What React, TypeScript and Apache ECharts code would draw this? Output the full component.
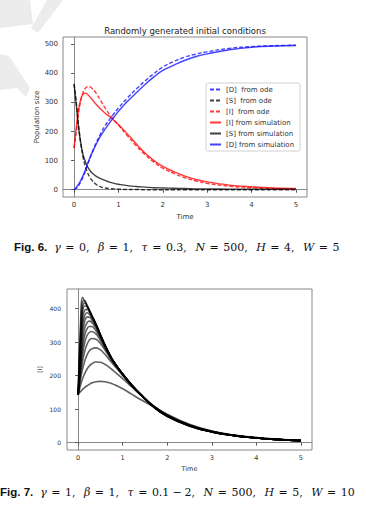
import React, { useEffect, useRef } from "react";
import * as echarts from "echarts";

const FONT = "DejaVu Sans";

// ---------- Figure 6 data ----------
const T1 = [0, 0.05, 0.1, 0.15, 0.2, 0.25, 0.3, 0.35, 0.4, 0.5, 0.6, 0.7, 0.8, 0.9, 1.0, 1.2, 1.4, 1.6, 1.8, 2.0, 2.25, 2.5, 2.75, 3.0, 3.5, 4.0, 4.5, 5.0];
const D_ODE = [0, 5, 14, 27, 43, 62, 84, 105, 126, 162, 193, 220, 242, 262, 281, 315, 346, 374, 399, 422, 441, 456, 466, 474, 486, 492, 495, 497];
const S_ODE = [363, 300, 222, 160, 113, 82, 60, 44, 33, 18, 10, 6, 4, 3, 2, 1, 1, 0, 0, 0, 0, 0, 0, 0, 0, 0, 0, 0];
const I_ODE = [143, 200, 262, 307, 334, 348, 354, 354, 349, 331, 306, 281, 259, 240, 222, 186, 151, 121, 95, 74, 56, 41, 30, 22, 12, 7, 4, 2];
const I_SIM = [143, 215, 275, 310, 328, 332, 328, 320, 311, 293, 277, 263, 252, 238, 224, 192, 158, 126, 100, 80, 62, 47, 35, 27, 16, 10, 6, 4];
const S_SIM = [363, 290, 215, 160, 122, 98, 80, 68, 58, 46, 38, 32, 26, 22, 19, 14, 11, 9, 7, 6, 5, 4, 3, 3, 2, 2, 2, 2];
const D_SIM = [0, 8, 18, 32, 48, 66, 88, 107, 125, 157, 185, 208, 230, 250, 270, 303, 333, 362, 388, 410, 428, 445, 458, 467, 481, 490, 494, 496];

const X_TICKS = [0, 1, 2, 3, 4, 5];
const Y1_TICKS = [0, 100, 200, 300, 400, 500];
const Y2_TICKS = [0, 100, 200, 300, 400];

// ---------- Figure 7 data ----------
const T2 = [0, 0.05, 0.1, 0.15, 0.2, 0.25, 0.3, 0.4, 0.5, 0.6, 0.7, 0.8, 1.0, 1.2, 1.4, 1.7, 2.0, 2.5, 3.0, 3.5, 4.0, 4.5, 5.0];
const C1 = [143, 345, 434, 422, 408, 394, 380, 352, 320, 290, 263, 240, 203, 171, 143, 106, 79, 50, 32, 21, 14, 9, 6];
const C2 = [143, 320, 422, 424, 410, 395, 381, 353, 321, 291, 264, 240, 203, 171, 143, 106, 79, 50, 32, 21, 14, 9, 6];
const C3 = [143, 300, 405, 417, 410, 396, 382, 354, 322, 292, 264, 241, 204, 171, 143, 106, 79, 50, 32, 21, 14, 9, 6];
const C4 = [143, 285, 390, 408, 406, 396, 382, 354, 322, 292, 265, 241, 204, 172, 143, 106, 79, 50, 32, 21, 14, 9, 6];
const C5 = [143, 270, 372, 396, 398, 392, 380, 354, 322, 292, 265, 241, 204, 172, 143, 106, 79, 50, 32, 21, 14, 9, 6];
const C6 = [143, 257, 352, 381, 388, 384, 375, 352, 322, 292, 265, 242, 205, 172, 144, 107, 80, 51, 32, 21, 14, 9, 6];
const C7 = [143, 245, 330, 364, 375, 375, 368, 348, 320, 292, 265, 242, 205, 172, 144, 107, 80, 51, 32, 21, 14, 9, 6];
const C8 = [143, 232, 306, 343, 358, 363, 360, 342, 317, 290, 264, 242, 205, 173, 144, 107, 80, 51, 33, 21, 14, 9, 6];
const C9 = [143, 222, 287, 322, 340, 347, 347, 334, 312, 287, 263, 241, 205, 173, 144, 107, 80, 51, 33, 21, 14, 9, 6];
const C10 = [143, 212, 265, 300, 320, 329, 332, 325, 306, 283, 260, 239, 205, 173, 145, 108, 81, 51, 33, 21, 14, 9, 6];
const C11 = [143, 200, 243, 274, 294, 306, 311, 309, 296, 277, 256, 237, 204, 173, 145, 108, 81, 52, 33, 22, 14, 9, 6];
const C12 = [143, 187, 220, 244, 262, 274, 280, 283, 277, 264, 248, 232, 201, 172, 145, 109, 82, 52, 33, 22, 14, 9, 6];
const C13 = [143, 170, 191, 207, 220, 229, 235, 241, 240, 234, 225, 214, 191, 167, 143, 109, 83, 53, 34, 22, 15, 10, 6];
const C14 = [143, 152, 159, 165, 170, 174, 178, 182, 183, 182, 179, 174, 161, 145, 129, 107, 85, 55, 35, 23, 15, 10, 7];
const FIG7_CURVES = [C1, C2, C3, C4, C5, C6, C7, C8, C9, C10, C11, C12, C13, C14];

const pairs = (t: number[], v: number[]) => t.map((x, i) => [x, v[i]]);

const BLUE = "rgba(20,20,255,0.8)";
const RED = "rgba(255,10,10,0.8)";
const BLACK = "rgba(0,0,0,0.75)";

function topLine(name: string, data: number[], color: string, dashed: boolean) {
  return {
    name,
    type: "line",
    xAxisIndex: 0,
    yAxisIndex: 0,
    data: pairs(T1, data),
    showSymbol: false,
    symbol: "none",
    smooth: 0.4,
    itemStyle: { color },
    lineStyle: { color, width: 1.4, type: dashed ? [4, 2] : "solid" },
  };
}

function axisX(gridIndex: number, fs: number, gap: number) {
  return {
    type: "value",
    gridIndex,
    min: -0.25,
    max: 5.25,
    splitLine: { show: false },
    axisLine: { show: true, lineStyle: { color: "#888", width: 1 } },
    axisTick: { show: true, length: 3, customValues: X_TICKS, lineStyle: { color: "#555" } },
    axisLabel: { customValues: X_TICKS, fontSize: fs, color: "#333", margin: 4, fontFamily: FONT },
    name: "Time",
    nameLocation: "middle",
    nameGap: gap,
    nameMoveOverlap: false,
    nameTextStyle: { fontSize: fs, color: "#333", fontFamily: FONT },
  };
}

function axisY(gridIndex: number, min: number, max: number, ticks: number[], fs: number, name: string, gap: number, margin: number) {
  return {
    type: "value",
    gridIndex,
    min,
    max,
    splitLine: { show: false },
    axisLine: { show: true, lineStyle: { color: "#888", width: 1 } },
    axisTick: { show: true, length: 3, customValues: ticks, lineStyle: { color: "#555" } },
    axisLabel: { customValues: ticks, fontSize: fs, color: "#333", margin, fontFamily: FONT },
    name,
    nameLocation: "middle",
    nameGap: gap,
    nameMoveOverlap: false,
    nameTextStyle: { fontSize: fs, color: "#333", fontFamily: FONT },
  };
}

const MATH = "DejaVu Serif";
const CAP_FS = 11;
const capRich = {
  b: { fontFamily: "Liberation Sans", fontWeight: "bold", fontSize: 11.5, fill: "#111", padding: [0, 7, 0, 0] },
  i: { fontFamily: MATH, fontStyle: "italic", fontSize: CAP_FS, fill: "#111" },
  eq: { fontFamily: MATH, fontSize: CAP_FS, fill: "#111", padding: [0, 4.5, 0, 4.5] },
  mi: { fontFamily: MATH, fontSize: CAP_FS, fill: "#111", padding: [0, 3, 0, 3] },
  n: { fontFamily: MATH, fontSize: CAP_FS, fill: "#111", padding: [0, 8.5, 0, 0] },
  m: { fontFamily: MATH, fontSize: CAP_FS, fill: "#111" },
};

export default function App() {
  const ref = useRef<HTMLDivElement>(null);
  useEffect(() => {
    if (!ref.current) return;
    const chart = echarts.init(ref.current, undefined, { renderer: "svg" });
    const fig7Series = FIG7_CURVES.map((c) => ({
      type: "line",
      xAxisIndex: 1,
      yAxisIndex: 1,
      data: pairs(T2, c),
      showSymbol: false,
      symbol: "none",
      smooth: 0.45,
      lineStyle: { color: "rgba(0,0,0,0.62)", width: 1.6 },
    }));
    const wm = "#ececec";
    chart.setOption({
      animation: false,
      backgroundColor: "#fff",
      grid: [
        { left: 63, top: 37, width: 244, height: 160, show: true, borderColor: "#888", borderWidth: 1, backgroundColor: "transparent" },
        { left: 67, top: 289, width: 245, height: 161, show: true, borderColor: "#888", borderWidth: 1, backgroundColor: "transparent" },
      ],
      xAxis: [axisX(0, 7, 16), axisX(1, 6.5, 15)],
      yAxis: [
        axisY(0, -25, 525, Y1_TICKS, 7, "Population size", 23, 5),
        axisY(1, -22, 459, Y2_TICKS, 6, "[I]", 25, 6),
      ],
      legend: {
        left: 206,
        top: 83,
        orient: "vertical",
        data: ["[D]  from ode", "[S]  from ode", "[I]  from ode", "[I] from simulation", "[S] from simulation", "[D] from simulation"],
        itemWidth: 11,
        itemHeight: 7,
        itemGap: 2,
        padding: [2, 6, 2, 3],
        borderColor: "#d0d0d0",
        borderWidth: 1,
        borderRadius: 2,
        backgroundColor: "#fff",
        itemStyle: { opacity: 0 },
        textStyle: { fontSize: 7, color: "#333", fontFamily: FONT, lineHeight: 9 },
      },
      graphic: [
        { type: "polygon", shape: { points: [[0, 0], [30, 0], [33, 24], [0, 28]] }, style: { fill: wm }, z: -10 },
        { type: "polygon", shape: { points: [[47, 0], [63, 0], [38, 33], [31, 28]] }, style: { fill: wm }, z: -10 },
        { type: "polygon", shape: { points: [[0, 54], [9, 56], [30, 88], [26, 97], [17, 88], [0, 90]] }, style: { fill: wm }, z: -10 },
        {
          type: "text",
          x: 185,
          y: 31,
          style: { text: "Randomly generated initial conditions", fontSize: 8.5, fontFamily: FONT, fill: "#222", align: "center", verticalAlign: "middle" },
        },
        {
          type: "text",
          x: 14,
          y: 247,
          style: {
            text: "{b|Fig. 6.}{i|γ}{eq|=}{n|0,}{i|β}{eq|=}{n|1,}{i|τ}{eq|=}{n|0.3,}{i|N}{eq|=}{n|500,}{i|H}{eq|=}{n|4,}{i|W}{eq|=}{m|5}",
            fontFamily: MATH,
            fontSize: CAP_FS,
            fill: "#111",
            verticalAlign: "middle",
            rich: capRich,
          },
        },
        {
          type: "text",
          x: 0,
          y: 492,
          style: {
            text: "{b|Fig. 7.}{i|γ}{eq|=}{n|1,}{i|β}{eq|=}{n|1,}{i|τ}{eq|=}{m|0.1}{mi|−}{n|2,}{i|N}{eq|=}{n|500,}{i|H}{eq|=}{n|5,}{i|W}{eq|=}{m|10}",
            fontFamily: MATH,
            fontSize: CAP_FS,
            fill: "#111",
            verticalAlign: "middle",
            rich: capRich,
          },
        },
      ],
      series: [
        topLine("[D]  from ode", D_ODE, BLUE, true),
        topLine("[S]  from ode", S_ODE, BLACK, true),
        topLine("[I]  from ode", I_ODE, RED, true),
        topLine("[I] from simulation", I_SIM, RED, false),
        topLine("[S] from simulation", S_SIM, BLACK, false),
        topLine("[D] from simulation", D_SIM, BLUE, false),
        ...fig7Series,
      ],
    });
    return () => chart.dispose();
  }, []);
  return (
    <div
      ref={ref}
      style={{ position: "fixed", left: 0, top: 0, width: 366, height: 520, background: "#fff" }}
    />
  );
}
